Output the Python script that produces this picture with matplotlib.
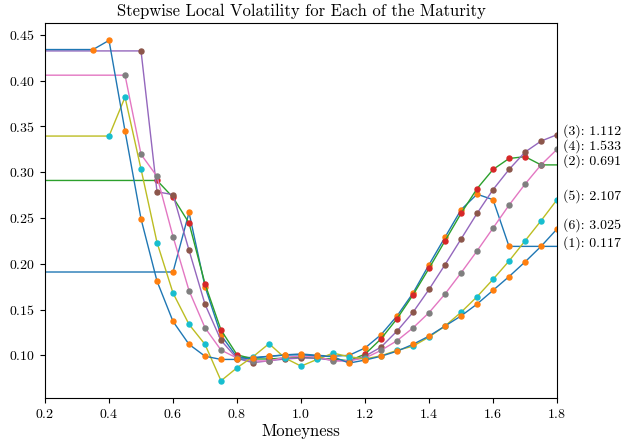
"""
Stepwise local volatility per maturity — line with flat extrapolation + grid points
"""
import matplotlib
matplotlib.use('Agg')
import matplotlib.pyplot as plt

plt.rcParams['font.family'] = 'serif'
plt.rcParams['font.serif'] = ['cmr10', 'DejaVu Serif']
plt.rcParams['mathtext.fontset'] = 'cm'
plt.rcParams['axes.formatter.use_mathtext'] = True
plt.rcParams['axes.unicode_minus'] = False

# ── data ──
maturities = [0.117, 0.691, 1.112, 1.533, 2.107, 3.025]

x1 = [0.60, 0.65, 0.70, 0.75, 0.80, 0.85, 0.90, 0.95, 1.00, 1.05, 1.10, 1.15, 1.20,
      1.25, 1.30, 1.35, 1.40, 1.45, 1.50, 1.55, 1.60, 1.65]
v1 = [0.191, 0.256, 0.175, 0.122, 0.098, 0.0975, 0.099, 0.1005, 0.1015, 0.100, 0.099,
      0.100, 0.108, 0.1225, 0.143, 0.168, 0.199, 0.229, 0.259, 0.276, 0.270, 0.219]

x2 = [0.55, 0.60, 0.65, 0.70, 0.75, 0.80, 0.85, 0.90, 0.95, 1.00, 1.05, 1.10, 1.15,
      1.20, 1.25, 1.30, 1.35, 1.40, 1.45, 1.50, 1.55, 1.60, 1.65, 1.70, 1.75]
v2 = [0.291, 0.2725, 0.2445, 0.178, 0.1276, 0.1006, 0.096, 0.096, 0.097, 0.098, 0.0966,
      0.096, 0.094, 0.1013, 0.118, 0.140, 0.166, 0.195, 0.225, 0.255, 0.282, 0.303,
      0.315, 0.317, 0.308]

x3 = [0.50, 0.55, 0.60, 0.65, 0.70, 0.75, 0.80, 0.85, 0.90, 0.95, 1.00, 1.05, 1.10,
      1.15, 1.20, 1.25, 1.30, 1.35, 1.40, 1.45, 1.50, 1.55, 1.60, 1.65, 1.70, 1.75, 1.80]
v3 = [0.4325, 0.2786, 0.2755, 0.2148, 0.1557, 0.1163, 0.0965, 0.092, 0.094, 0.096,
      0.097, 0.097, 0.0944, 0.094, 0.099, 0.109, 0.1265, 0.147, 0.172, 0.199, 0.227,
      0.255, 0.281, 0.303, 0.322, 0.334, 0.341]

x4 = [0.45, 0.50, 0.55, 0.60, 0.65, 0.70, 0.75, 0.80, 0.85, 0.90, 0.95, 1.00, 1.05,
      1.10, 1.15, 1.20, 1.25, 1.30, 1.35, 1.40, 1.45, 1.50, 1.55, 1.60, 1.65, 1.70,
      1.75, 1.80]
v4 = [0.406, 0.3195, 0.2954, 0.2297, 0.1707, 0.130, 0.1057, 0.097, 0.094, 0.0937,
      0.098, 0.099, 0.099, 0.0937, 0.094, 0.097, 0.1054, 0.116, 0.130, 0.1466, 0.167,
      0.190, 0.214, 0.239, 0.264, 0.287, 0.308, 0.325]

x5 = [0.40, 0.45, 0.50, 0.55, 0.60, 0.65, 0.70, 0.75, 0.80, 0.85, 0.90, 0.95, 1.00,
      1.05, 1.10, 1.15, 1.20, 1.25, 1.30, 1.35, 1.40, 1.45, 1.50, 1.55, 1.60, 1.65,
      1.70, 1.75, 1.80]
v5 = [0.3395, 0.382, 0.3034, 0.2232, 0.168, 0.1338, 0.1119, 0.0722, 0.0864, 0.0985,
      0.1127, 0.097, 0.0882, 0.0955, 0.1024, 0.0985, 0.096, 0.0995, 0.1054, 0.110,
      0.120, 0.132, 0.147, 0.164, 0.183, 0.203, 0.225, 0.247, 0.270]

x6 = [0.35, 0.40, 0.45, 0.50, 0.55, 0.60, 0.65, 0.70, 0.75, 0.80, 0.85, 0.90, 0.95,
      1.00, 1.05, 1.10, 1.15, 1.20, 1.25, 1.30, 1.35, 1.40, 1.45, 1.50, 1.55, 1.60,
      1.65, 1.70, 1.75, 1.80]
v6 = [0.434, 0.444, 0.345, 0.249, 0.181, 0.137, 0.112, 0.099, 0.0955, 0.0955, 0.097,
      0.0988, 0.1003, 0.1006, 0.0995, 0.0985, 0.0915, 0.0948, 0.099, 0.1045, 0.112,
      0.121, 0.132, 0.143, 0.156, 0.171, 0.186, 0.202, 0.219, 0.238]

xs_all = [x1, x2, x3, x4, x5, x6]
vs_all = [v1, v2, v3, v4, v5, v6]
x_lo, x_hi = 0.2, 1.8

fig = plt.figure(figsize=(6.21, 4.41), dpi=100)
ax = fig.add_axes([0.0725, 0.098, 0.8245, 0.849])

for i, (xs, vs) in enumerate(zip(xs_all, vs_all)):
    # flat extrapolation outside the grid
    lx = [x_lo] + xs + [x_hi]
    ly = [vs[0]] + vs + [vs[-1]]
    ax.plot(lx, ly, linewidth=1.0)
    ax.plot(xs, vs, 'o', markersize=3.6)
    ax.text(x_hi + 0.02, vs[-1] + 0.004, f'({i + 1}): {maturities[i]:.3f}',
            fontsize=10, va='center', ha='left')

ax.set_xlim(x_lo, x_hi)
ax.set_xlabel('Moneyness', fontsize=12, labelpad=2)
ax.set_title('Stepwise Local Volatility for Each of the Maturity', fontsize=12, pad=5)
ax.tick_params(labelsize=10)

fig.savefig('out.png', dpi=100)
